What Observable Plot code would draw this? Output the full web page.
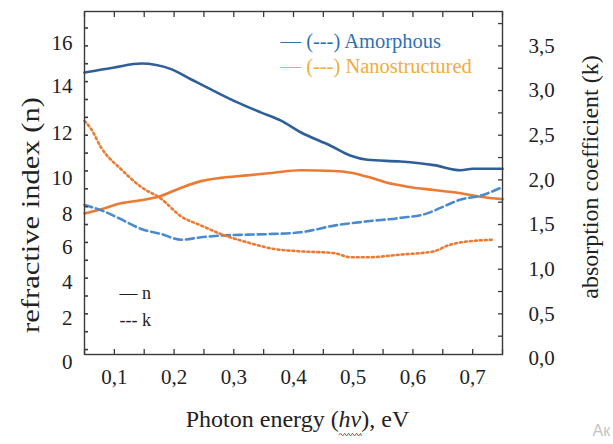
<!DOCTYPE html>
<html>
<head>
<meta charset="utf-8">
<script src="https://cdn.jsdelivr.net/npm/d3@7"></script>
<script src="https://cdn.jsdelivr.net/npm/@observablehq/plot@0.6"></script>
<style>
  html, body { margin: 0; padding: 0; background: #fff; }
  #chart svg { display: block; }
</style>
</head>
<body>
<div id="chart"></div>
<script>
// Photon energy (eV) sample points and measured optical constants
const energyAmorphousN = [0.05, 0.10, 0.145, 0.195, 0.228, 0.267, 0.307, 0.345, 0.379, 0.412, 0.462, 0.496, 0.524, 0.579, 0.635, 0.68, 0.70, 0.741, 0.75];
const amorphousN       = [14.63, 14.87, 15.05, 14.79, 14.32, 13.79, 13.30, 12.89, 12.54, 12.05, 11.45, 11.00, 10.82, 10.74, 10.58, 10.35, 10.42, 10.42, 10.42];

const energyNanoN = [0.05, 0.078, 0.111, 0.145, 0.178, 0.212, 0.245, 0.278, 0.323, 0.367, 0.412, 0.468, 0.496, 0.524, 0.557, 0.591, 0.635, 0.68, 0.713, 0.75];
const nanoN       = [8.02, 8.26, 8.59, 8.76, 9.00, 9.46, 9.83, 10.01, 10.12, 10.24, 10.35, 10.32, 10.24, 10.06, 9.74, 9.52, 9.33, 9.15, 8.96, 8.82];

const energyAmorphousK = [0.05, 0.078, 0.111, 0.145, 0.178, 0.212, 0.245, 0.278, 0.323, 0.367, 0.412, 0.468, 0.524, 0.579, 0.624, 0.646, 0.68, 0.713, 0.75];
const amorphousK       = [1.72, 1.66, 1.56, 1.45, 1.395, 1.33, 1.357, 1.376, 1.387, 1.395, 1.413, 1.488, 1.536, 1.574, 1.625, 1.686, 1.78, 1.823, 1.92];

const energyNanoK = [0.05, 0.061, 0.078, 0.111, 0.145, 0.178, 0.212, 0.245, 0.278, 0.323, 0.367, 0.412, 0.468, 0.496, 0.524, 0.579, 0.635, 0.658, 0.68, 0.735];
const nanoK       = [2.66, 2.57, 2.36, 2.12, 1.92, 1.79, 1.59, 1.49, 1.395, 1.30, 1.227, 1.20, 1.18, 1.133, 1.133, 1.163, 1.20, 1.264, 1.30, 1.33];

// Axis labels
const energyTicks = [0.1, 0.2, 0.3, 0.4, 0.5, 0.6, 0.7];
const kTicks = [0, 0.5, 1.0, 1.5, 2.0, 2.5, 3.0, 3.5];
const nTicks = [0, 2, 4, 6, 8, 10, 12, 14, 16];
// where each refractive-index label sits on the absorption-coefficient scale
const nTickAtK = [-0.04, 0.45, 0.85, 1.24, 1.62, 2.02, 2.52, 3.05, 3.53];

const serif = "'Liberation Serif', 'Times New Roman', serif";
const nToK = d3.scaleLinear().domain(nTicks).range(nTickAtK);
const nLabelOf = new Map(nTickAtK.map((k, i) => [k, nTicks[i]]));
const comma = d => d.toFixed(1).replace(".", ",");

function series(E, V, name, toK) {
  return E.map((e, i) => ({energy: e, value: toK ? toK(V[i]) : V[i], name}));
}
const data = [
  ...series(energyAmorphousN, amorphousN, "amorphous n", nToK),
  ...series(energyNanoN, nanoN, "nano n", nToK),
  ...series(energyAmorphousK, amorphousK, "amorphous k"),
  ...series(energyNanoK, nanoK, "nano k")
];
const styles = {
  "amorphous n": {stroke: "#2f5f98", strokeDasharray: null},
  "nano n": {stroke: "#ec7a32", strokeDasharray: null},
  "amorphous k": {stroke: "#4a8ad0", strokeDasharray: "8,4"},
  "nano k": {stroke: "#ec7a32", strokeDasharray: "2,3"}
};

const minorEnergy = d3.range(0.05, 0.7501, 0.05);
const leftMinor = d3.range(0.1, 3.8, 0.2);
const rightMinor = d3.range(0.25, 3.8, 0.25);
const tickStyle = {tickFormat: () => "", label: null, stroke: "#3a3a3a", strokeWidth: 1.3};
const labelStyle = {tickSize: 0, label: null, fontFamily: serif, fontSize: 21, fill: "#222"};
const textStyle = {fontFamily: serif, lineAnchor: "middle"};

const chart = Plot.plot({
  width: 613,
  height: 444,
  marginLeft: 84,
  marginRight: 111,
  marginTop: 11,
  marginBottom: 90,
  style: {fontFamily: serif, fontSize: "21px", color: "#222", background: "#fff"},
  x: {domain: [0.05, 0.75], axis: null},
  y: {domain: [0.045, 3.885], axis: null},
  marks: [
    ...Object.entries(styles).map(([name, s]) =>
      Plot.line(data.filter(d => d.name === name), {
        x: "energy", y: "value", stroke: s.stroke, strokeWidth: 2.6,
        strokeDasharray: s.strokeDasharray, curve: "monotone-x"
      })
    ),
    Plot.frame({stroke: "#3a3a3a", strokeWidth: 1.4}),
    // inward ticks on all four sides
    Plot.axisX(minorEnergy, {anchor: "bottom", tickSize: -5, ...tickStyle}),
    Plot.axisX(minorEnergy, {anchor: "top", tickSize: -5, ...tickStyle}),
    Plot.axisY(leftMinor, {anchor: "left", tickSize: -4, ...tickStyle, strokeWidth: 1.6}),
    Plot.axisY(rightMinor, {anchor: "right", tickSize: -5, ...tickStyle}),
    // tick labels
    Plot.axisX(energyTicks, {anchor: "bottom", tickPadding: 15, tickFormat: comma, ...labelStyle}),
    Plot.axisY(nTickAtK, {anchor: "left", tickPadding: 12, tickFormat: d => nLabelOf.get(d), ...labelStyle}),
    Plot.axisY(kTicks, {anchor: "right", tickPadding: 26, tickFormat: comma, ...labelStyle}),
    // axis titles
    Plot.text(["Photon energy (hv), eV"], {frameAnchor: "bottom", textAnchor: "middle", dx: 4, dy: 65, fontSize: 24, fill: "#222", ...textStyle}),
    Plot.text(["refractive index (n)"], {frameAnchor: "left", textAnchor: "middle", rotate: -90, dx: -54, dy: 32, fontSize: 25, fill: "#222", ...textStyle}),
    Plot.text(["absorption coefficient (k)"], {frameAnchor: "right", textAnchor: "middle", rotate: -90, dx: 88, dy: -6, fontSize: 24, fill: "#222", ...textStyle}),
    // sample legend
    Plot.text(["— (---) Amorphous"], {frameAnchor: "top-left", textAnchor: "start", dx: 196, dy: 30, fontSize: 20.5, fill: "#2e72b4", ...textStyle}),
    Plot.text(["— (---) Nanostructured"], {frameAnchor: "top-left", textAnchor: "start", dx: 196, dy: 55, fontSize: 20.5, fill: "#f0ad3a", ...textStyle}),
    // line-style legend
    Plot.text(["— n"], {frameAnchor: "bottom-left", textAnchor: "start", dx: 35, dy: -61, fontSize: 18, fill: "#222", ...textStyle}),
    Plot.text(["--- k"], {frameAnchor: "bottom-left", textAnchor: "start", dx: 35, dy: -34, fontSize: 18, fill: "#222", ...textStyle}),
    Plot.text(["Ак"], {frameAnchor: "bottom-right", textAnchor: "start", dx: 90, dy: 76, fontSize: 16, fill: "#c4c4c4", lineAnchor: "middle", fontFamily: "'Liberation Sans', sans-serif"})
  ]
});

document.getElementById("chart").append(chart);

const svg = d3.select(chart);
const textsWith = s => svg.selectAll("text").filter(function () { return this.textContent === s; });

// the refractive-index title is drawn stretched along its length
textsWith("refractive index (n)").attr("textLength", 236).attr("lengthAdjust", "spacingAndGlyphs");

// italic "hv" with a red spell-check squiggle beneath it
textsWith("Photon energy (hv), eV").each(function () {
  const node = this;
  const t = d3.select(node);
  t.text(null);
  t.append("tspan").text("Photon energy (");
  t.append("tspan").attr("font-style", "italic").text("hv");
  t.append("tspan").text("), eV");
  const a = node.getStartPositionOfChar(15);
  const b = node.getEndPositionOfChar(16);
  const box = node.getBBox();
  const y0 = box.y + box.height + 2.5;
  const wave = d3.path();
  wave.moveTo(a.x, y0);
  for (let x = a.x, up = true; x < b.x; x += 2, up = !up) wave.lineTo(Math.min(x + 2, b.x), y0 + (up ? -1.3 : 1.3));
  d3.select(node.parentNode).append("path")
    .attr("transform", node.getAttribute("transform"))
    .attr("d", wave.toString()).attr("fill", "none").attr("stroke", "#d42a2a").attr("stroke-width", 0.9);
});
</script>
</body>
</html>
